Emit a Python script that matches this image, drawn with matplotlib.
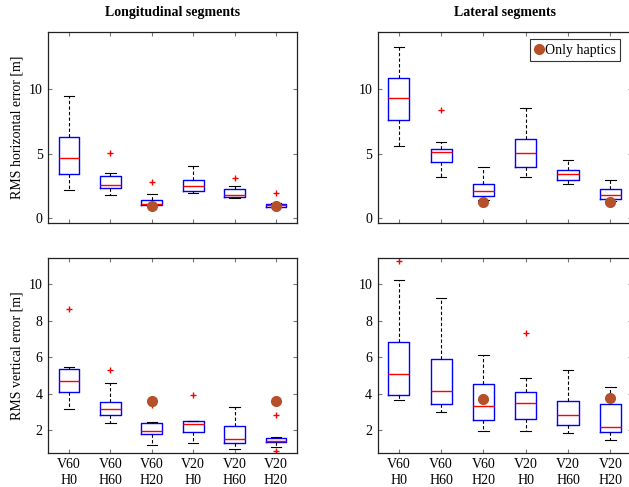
import matplotlib
matplotlib.use("Agg")
import matplotlib.pyplot as plt
from matplotlib.lines import Line2D

plt.rcParams["font.family"] = ["Liberation Serif", "DejaVu Serif"]
plt.rcParams["font.size"] = 10

conditions = ["V60\nH0", "V60\nH60", "V60\nH20", "V20\nH0", "V20\nH60", "V20\nH20"]

# Longitudinal, horizontal error
lon_h_lo = [2.16, 1.83, 0.95, 1.98, 1.57, 0.88]
lon_h_q1 = [3.43, 2.35, 1.03, 2.14, 1.68, 0.90]
lon_h_med = [4.66, 2.60, 1.13, 2.50, 1.83, 1.00]
lon_h_q3 = [6.29, 3.25, 1.44, 2.99, 2.24, 1.08]
lon_h_hi = [9.46, 3.53, 1.91, 4.05, 2.47, 1.21]
lon_h_out = [[], [5.05], [2.84], [], [3.14], [1.96]]
lon_h_haptic = [None, None, 0.98, None, None, 0.98]

# Lateral, horizontal error
lat_h_lo = [5.59, 3.20, 1.40, 3.17, 2.65, 1.35]
lat_h_q1 = [7.63, 4.38, 1.73, 4.00, 2.94, 1.47]
lat_h_med = [9.25, 5.15, 2.14, 5.03, 3.40, 1.83]
lat_h_q3 = [10.80, 5.34, 2.65, 6.13, 3.76, 2.29]
lat_h_hi = [13.22, 5.90, 4.00, 8.50, 4.51, 2.96]
lat_h_out = [[], [8.35], [], [], [], []]
lat_h_haptic = [None, None, 1.29, None, None, 1.29]

# Longitudinal, vertical error
lon_v_lo = [3.17, 2.37, 1.16, 1.27, 0.94, 1.05]
lon_v_q1 = [4.11, 2.81, 1.78, 1.89, 1.27, 1.32]
lon_v_med = [4.69, 3.14, 1.93, 2.31, 1.52, 1.41]
lon_v_q3 = [5.35, 3.56, 2.37, 2.49, 2.22, 1.58]
lon_v_hi = [5.48, 4.58, 2.44, 2.51, 3.28, 1.63]
lon_v_out = [[8.63], [5.30], [3.37, 3.70], [3.92], [], [2.82, 0.85]]
lon_v_haptic = [None, None, 3.61, None, None, 3.59]

# Lateral, vertical error
lat_v_lo = [3.65, 2.99, 1.95, 1.95, 1.84, 1.43]
lat_v_q1 = [3.92, 3.45, 2.53, 2.60, 2.26, 1.91]
lat_v_med = [5.06, 4.16, 3.30, 3.50, 2.81, 2.16]
lat_v_q3 = [6.85, 5.90, 4.55, 4.11, 3.58, 3.43]
lat_v_hi = [10.22, 9.25, 6.12, 4.86, 5.28, 4.34]
lat_v_out = [[11.29], [], [], [7.33], [], []]
lat_v_haptic = [None, None, 3.70, None, None, 3.74]

W, H = 629, 487
fig = plt.figure(figsize=(W / 100, H / 100), dpi=100)


def px_axes(x0, y0, x1, y1):
    return fig.add_axes([x0 / W, 1 - y1 / H, (x1 - x0) / W, (y1 - y0) / H])


axes = [
    px_axes(48.3, 31.7, 296.7, 223.0),
    px_axes(377.7, 31.7, 631.5, 223.0),
    px_axes(48.3, 258.3, 296.7, 452.7),
    px_axes(377.7, 258.3, 631.5, 452.7),
]

panels = [
    (lon_h_lo, lon_h_q1, lon_h_med, lon_h_q3, lon_h_hi, lon_h_out, lon_h_haptic),
    (lat_h_lo, lat_h_q1, lat_h_med, lat_h_q3, lat_h_hi, lat_h_out, lat_h_haptic),
    (lon_v_lo, lon_v_q1, lon_v_med, lon_v_q3, lon_v_hi, lon_v_out, lon_v_haptic),
    (lat_v_lo, lat_v_q1, lat_v_med, lat_v_q3, lat_v_hi, lat_v_out, lat_v_haptic),
]

haptic_color = "#b5502a"

for i, (ax, (lo, q1, med, q3, hi, out, hap)) in enumerate(zip(axes, panels)):
    stats = []
    for j in range(len(conditions)):
        stats.append({"whislo": lo[j], "q1": q1[j], "med": med[j], "q3": q3[j],
                      "whishi": hi[j], "fliers": out[j]})
    pos = list(range(1, len(conditions) + 1))
    ax.bxp(stats, positions=pos, widths=0.5, showfliers=True,
           boxprops=dict(color="blue", linewidth=1.0),
           medianprops=dict(color="red", linewidth=1.0),
           whiskerprops=dict(color="black", linewidth=0.8, linestyle=(0, (3, 2))),
           capprops=dict(color="black", linewidth=0.8),
           flierprops=dict(marker="+", markeredgecolor="red", markersize=5,
                           markeredgewidth=1.0, linestyle="none"))
    hx = [p for p, v in zip(pos, hap) if v is not None]
    hy = [v for v in hap if v is not None]
    ax.plot(hx, hy, "o", color=haptic_color, markersize=7, zorder=5)

    ax.set_xlim(0.5, 6.5)
    if i < 2:
        ax.set_ylim(-0.35, 14.4)
        ax.set_yticks([0, 5, 10])
        ax.set_xticklabels([])
    else:
        ax.set_ylim(0.75, 11.43)
        ax.set_yticks([2, 4, 6, 8, 10])
        ax.set_xticklabels(conditions, linespacing=1.3)
    ax.tick_params(direction="in", top=True, right=True, length=3,
                   color="#777777", labelsize=10, pad=4)
    for s in ax.spines.values():
        s.set_color("#222222")
        s.set_linewidth(0.9)

axes[0].set_title("Longitudinal segments", fontweight="bold", fontsize=10, pad=11)
axes[1].set_title("Lateral segments", fontweight="bold", fontsize=10, pad=11)
axes[0].set_ylabel("RMS horizontal error [m]", fontsize=10, labelpad=4)
axes[2].set_ylabel("RMS vertical error [m]", fontsize=10, labelpad=4)

handle = Line2D([], [], marker="o", color=haptic_color, linestyle="none", markersize=7)
leg = axes[1].legend([handle], ["Only haptics"], loc="upper right",
                     bbox_to_anchor=((620 - 377.7) / (631.5 - 377.7), 0.96),
                     frameon=True, fancybox=False, edgecolor="black",
                     handletextpad=0.15, handlelength=0.6, borderpad=0.3,
                     borderaxespad=0, fontsize=10)
leg.get_frame().set_linewidth(0.8)

fig.savefig("out.png", dpi=100)
